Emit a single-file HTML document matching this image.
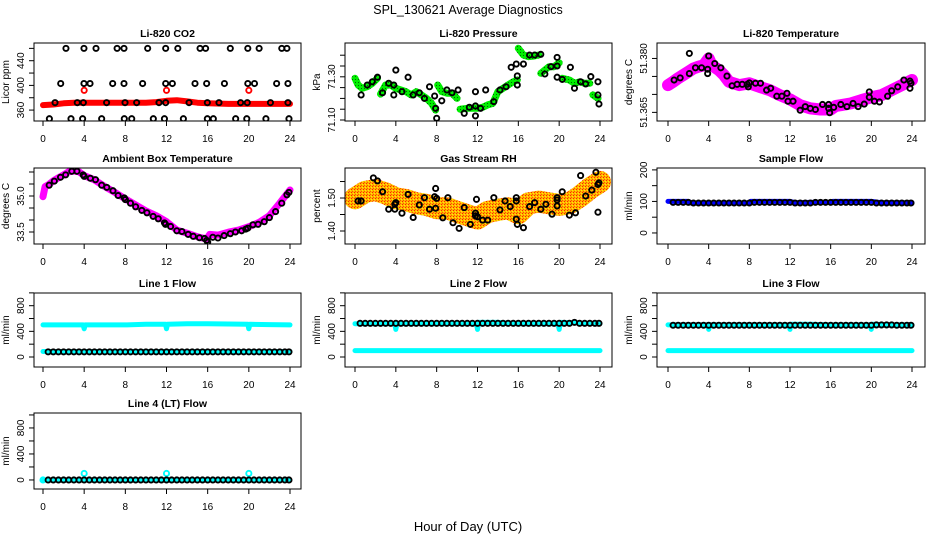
<!DOCTYPE html>
<html><head><meta charset="utf-8"><title>SPL_130621 Average Diagnostics</title>
<style>
html,body{margin:0;padding:0;background:#fff;}
svg{display:block;font-family:"Liberation Sans",Arial,sans-serif;}
</style></head>
<body>
<svg id="chart" width="936" height="540" viewBox="0 0 936 540" xmlns="http://www.w3.org/2000/svg">
<defs>
<pattern id="orangeDots" width="3" height="3" patternUnits="userSpaceOnUse">
<rect width="3" height="3" fill="#ffb300"/><rect width="1" height="1" fill="#ff2200"/><rect x="2" y="1" width="1" height="1" fill="#ffee00"/><rect x="1" y="2" width="1" height="1" fill="#ff5500"/>
</pattern>
<pattern id="greenDots" width="3" height="3" patternUnits="userSpaceOnUse">
<rect width="3" height="3" fill="#00ee00"/><rect x="1" y="1" width="1" height="1" fill="#006600"/>
</pattern>
</defs>
<text x="468" y="14" text-anchor="middle" font-size="12.5">SPL_130621  Average Diagnostics</text>
<text x="468" y="531" text-anchor="middle" font-size="13">Hour of Day (UTC)</text>
</svg>
<script>
// ---------------- data ----------------
const HALF = [0.5,1,1.5,2,2.5,3,3.5,4,4.5,5,5.5,6,6.5,7,7.5,8,8.5,9,9.5,10,10.5,11,11.5,12,12.5,13,13.5,14,14.5,15,15.5,16,16.5,17,17.5,18,18.5,19,19.5,20,20.5,21,21.5,22,22.5,23,23.5,23.9];
const xTicks = [0,4,8,12,16,20,24];

// CO2
const co2RedHours = [0,1,2,3,4,6,8,10,11,12,13,14,15,16,18,20,22,24];
const co2RedVals = [368,369,371,372,372,372,372,372,373,375,376,374,372,371,370,370,370,370];
const co2RedOutHours = [4,12,20];
const co2RedOutVals = [392,392,392];
const co2BlackHours = [2.23,3.98,5.15,7.2,7.87,10.17,11.92,13.1,15.26,15.8,18.2,19.9,21.0,23.2,23.7,
 1.72,3.98,4.57,6.77,7.87,9.68,11.92,12.57,14.77,15.9,17.63,19.9,20.55,22.7,23.8,
 1.17,3.33,3.92,6.18,7.97,9.1,11.27,11.92,14.19,15.97,17.1,19.2,19.85,22.1,23.8,
 0.62,2.72,3.85,5.7,7.9,8.62,10.72,11.8,13.64,15.97,16.55,18.72,19.8,21.66,23.9];
const co2BlackVals = [460,460,460,460,460,460,460,460,460,460,460,460,460,460,460,
 403,403,403,403,403,403,403,403,403,403,403,403,403,403,403,
 372,372,372,372,372,372,372,372,372,372,372,372,372,372,372,
 346,346,346,346,346,346,346,346,346,346,346,346,346,346,346];

// Pressure
const presGreenHours = [0,0.3,0.7,1.2,1.7,2.2,null,2.5,3,3.5,4,4.5,5,5.5,6,6.5,7,7.5,7.9,null,8.1,8.5,9,9.5,10,null,10.3,11,11.5,12,12.5,13,13.5,14,14.5,15,15.5,15.9,null,16,16.5,17,17.5,18,null,18.2,19,19.5,20,null,20.3,21,21.5,22,22.5,23,null,23.3,23.8];
const presGreenVals = [71.293,71.262,71.247,71.254,71.270,71.293,null,71.220,71.262,71.262,71.247,71.239,71.231,71.216,71.231,71.216,71.200,71.177,71.146,null,71.262,71.231,71.224,71.224,71.200,null,71.150,71.154,71.154,71.154,71.159,71.170,71.177,71.231,71.247,71.262,71.277,71.285,null,71.432,71.401,71.393,71.396,71.401,null,71.316,71.347,71.347,71.365,null,71.293,71.285,71.270,71.277,71.270,71.270,null,71.216,71.200];
const presBlackHours = [0.6,1.2,1.7,2.2,2.7,3.3,3.8,3.8,4.0,4.6,5.2,5.7,6.3,6.8,7.3,7.8,7.9,8.0,8.5,9.0,9.5,10.1,10.7,11.2,11.8,11.8,11.8,12.3,12.8,13.6,14.2,14.8,15.3,15.8,15.9,15.9,16.5,17.1,17.6,18.2,18.6,19.2,19.8,19.8,19.8,20.3,21.1,21.5,22.1,22.6,23.1,23.8,23.8,23.9];
const presBlackVals = [71.216,71.262,71.277,71.298,71.226,71.270,71.216,71.262,71.331,71.231,71.298,71.216,71.226,71.200,71.254,71.211,71.154,71.108,71.189,71.239,71.226,71.239,71.131,71.159,71.119,71.165,71.231,71.154,71.239,71.185,71.239,71.254,71.344,71.359,71.304,71.262,71.359,71.401,71.401,71.404,71.313,71.347,71.390,71.350,71.298,71.288,71.344,71.247,71.277,71.267,71.301,71.277,71.216,71.174];

// Li-820 temperature
const tempMagHours = [0,0.5,1,1.5,2,2.5,3,3.5,4,4.3,5,5.5,6,7,8,9,10,11,12,13,14,15,16,16.5,17,18,19,20,21,22,23,24];
const tempMagVals = [51.3726,51.3735,51.3745,51.3754,51.3763,51.3772,51.3777,51.3781,51.3800,51.3781,51.3768,51.3754,51.3735,51.3726,51.3731,51.3721,51.3712,51.3698,51.3686,51.3670,51.3661,51.3658,51.3658,51.3668,51.3670,51.3675,51.3684,51.3692,51.3698,51.3712,51.3726,51.3740];
const tempBlackHours = [0.6,1.2,2.1,2.1,2.7,3.3,3.9,3.9,4.0,4.6,5.2,5.8,6.3,6.8,7.3,7.8,7.9,8.0,8.6,9.1,9.7,10.1,10.7,11.2,11.7,11.8,12.3,13.0,13.5,14.0,14.5,15.2,15.8,15.8,15.9,16.3,17.0,17.6,18.2,18.7,19.3,19.8,19.8,20.3,20.8,21.6,22.0,22.6,23.2,23.8,23.8,23.9];
const tempBlackVals = [51.3740,51.3746,51.3814,51.3758,51.3774,51.3774,51.3758,51.3770,51.3807,51.3786,51.3774,51.3751,51.3724,51.3728,51.3728,51.3728,51.3721,51.3732,51.3731,51.3731,51.3712,51.3717,51.3695,51.3695,51.3703,51.3681,51.3681,51.3656,51.3666,51.3661,51.3658,51.3672,51.3672,51.3661,51.3649,51.3664,51.3672,51.3666,51.3675,51.3666,51.3673,51.3707,51.3692,51.3681,51.3679,51.3695,51.3710,51.3721,51.3740,51.3737,51.3717,51.3731];

// Ambient box temperature
const ambMagHours = [0,0.2,0.5,1,1.5,2,2.5,3,3.5,4,5,6,7,8,9,10,11,12,13,14,15,15.9,16.2,17,18,19,20,21,22,23,24];
const ambMagVals = [34.97,35.39,35.46,35.63,35.76,35.88,36.01,36.04,36.01,35.85,35.67,35.39,35.15,34.88,34.63,34.38,34.18,33.93,33.58,33.45,33.30,33.21,33.40,33.37,33.49,33.58,33.72,33.90,34.18,34.70,35.25];
const ambBlackHours = [0.6,1.1,1.7,2.2,2.8,3.3,3.9,4.0,4.6,5.1,5.7,6.2,6.8,7.3,7.9,8.0,8.5,9.0,9.6,10.1,10.7,11.2,11.8,11.9,12.4,13.0,13.5,14.1,14.6,15.2,15.7,15.9,16.0,16.5,17.0,17.6,18.2,18.7,19.3,19.7,19.9,20.4,20.9,21.5,22.0,22.6,23.2,23.7,23.9];
const ambBlackVals = [35.45,35.62,35.78,35.88,36.03,36.03,35.88,35.82,35.74,35.68,35.45,35.36,35.22,35.02,34.92,34.85,34.70,34.55,34.40,34.30,34.15,34.05,33.88,33.82,33.73,33.55,33.52,33.40,33.32,33.26,33.23,33.15,33.08,33.28,33.25,33.35,33.43,33.50,33.55,33.62,33.66,33.80,33.82,33.93,34.10,34.35,34.70,35.05,35.15];

// Gas stream RH
const rhOrHours = [0,1,2,3,4,5,6,7,8,9,10,11,12,13,14,15,16,17,18,19,20,21,22,23,24];
const rhOrVals = [1.499,1.519,1.524,1.514,1.499,1.494,1.484,1.479,1.469,1.469,1.458,1.448,1.438,1.458,1.464,1.469,1.454,1.484,1.489,1.484,1.479,1.484,1.504,1.529,1.549];
const rhBlackHours = [0.3,0.6,1.8,2.2,2.7,3.3,3.9,3.9,4.0,4.6,5.2,5.7,6.3,6.8,7.3,7.8,7.9,7.9,8.0,8.6,9.1,9.6,10.2,10.7,11.3,11.8,11.8,11.9,12.0,12.5,13.0,13.6,14.2,14.7,15.2,15.8,15.8,15.8,15.9,16.5,17.1,17.6,18.2,18.7,19.3,19.8,19.8,19.8,20.3,21.0,21.6,22.1,22.6,23.2,23.6,23.8,23.8,23.9];
const rhBlackVals = [1.491,1.491,1.561,1.552,1.519,1.466,1.481,1.466,1.486,1.454,1.511,1.441,1.479,1.501,1.466,1.504,1.529,1.469,1.499,1.440,1.501,1.425,1.408,1.471,1.420,1.454,1.446,1.496,1.443,1.433,1.433,1.501,1.464,1.491,1.474,1.491,1.501,1.436,1.420,1.410,1.474,1.486,1.466,1.481,1.451,1.501,1.494,1.476,1.519,1.448,1.455,1.568,1.506,1.524,1.578,1.541,1.457,1.546];

// Sample flow
const sampBlueHours = [0,2,2.3,4,6,8,8.1,10,12,12.5,14,16,16.2,18,20,21,22,24];
const sampBlueVals = [100,100,95,95,95,95,100,100,100,96,97,97,100,100,100,96,96,96];
const sampBlackVals = [97,97,97,97,95,95,95,95,95,95,95,95,95,95,95,95,97,97,97,97,97,97,97,97,95,95,95,95,97,97,97,97,97,97,97,97,97,97,97,97,95,95,95,95,95,95,95,95];

// Line flows
const cyTopHours = [0,2,3.9,4,4.1,6,8,10,11.9,12,12.1,14,16,18,19.9,20,20.1,22,24];
const line1CyTop = [500,500,500,440,500,500,500,510,510,440,510,520,520,515,510,440,510,505,500];
const line1CyLow = [85,85];
const line1Black = [80,80,80,80,80,80,80,80,80,80,80,80,80,80,80,80,80,80,80,80,80,80,80,80,80,80,80,80,80,80,80,80,80,80,80,80,80,80,80,80,80,80,80,80,80,80,80,80];
const line2CyTop = [520,520,520,430,520,520,520,520,520,430,540,540,520,520,520,430,540,530,520];
const line2CyLow = [100,100];
const line2Black = [525,525,525,525,525,525,525,525,525,525,525,525,525,525,525,525,525,525,525,525,525,525,525,525,525,525,525,525,525,525,525,525,525,525,525,525,525,525,525,525,525,525,540,525,525,525,525,525];
const line3CyTop = [500,500,500,430,500,500,500,500,500,430,510,510,500,500,500,430,510,500,500];
const line3CyLow = [100,100];
const line3Black = [495,495,495,495,495,495,495,495,495,495,495,495,495,495,495,495,495,495,495,495,495,495,495,495,495,495,495,495,495,495,495,495,495,495,495,495,495,495,495,495,500,500,500,500,495,495,495,495];
const lowHours = [0,24];
const line4CyVals = [0,0];
const line4SpikeHours = [0,4,12,20];
const line4SpikeVals = [0,100,100,100];
const line4Black = [0,0,0,0,0,0,0,0,0,0,0,0,0,0,0,0,0,0,0,0,0,0,0,0,0,0,0,0,0,0,0,0,0,0,0,0,0,0,0,0,0,0,0,0,0,0,0,0];

// ---------------- layout ----------------
const COLS = [{l:34,r:301,x0:43,x24:290},{l:345,r:612,x0:355,x24:600},{l:657,r:925,x0:668,x24:912}];
const ROWS = [{t:43,b:121},{t:168,b:244},{t:293,b:367},{t:413,b:489}];
const svg = document.getElementById('chart');
const NS = 'http://www.w3.org/2000/svg';

function mk(tag, attrs, parent, name) {
  const el = document.createElementNS(NS, tag);
  for (const k in attrs) el.setAttribute(k, attrs[k]);
  
  
  parent.appendChild(el);
  return el;
}

function makePanel(cfg) {
  const c = COLS[cfg.col], r = ROWS[cfg.row];
  const g = mk('g', {}, svg, cfg.name);
  const p = {
    sx: h => c.x0 + h * (c.x24 - c.x0) / 24,
    sy: v => r.t + (cfg.ymax - v) / (cfg.ymax - cfg.ymin) * (r.b - r.t),
    g: g
  };
  const clipId = 'clip-' + cfg.name;
  const cp = mk('clipPath', {id: clipId}, g, cfg.name + '-clip');
  mk('rect', {x: c.l, y: r.t, width: c.r - c.l, height: r.b - r.t}, cp, cfg.name + '-clip-rect');
  p.plot = mk('g', {'clip-path': 'url(#' + clipId + ')'}, g, cfg.name + '-plot-area');
  mk('text', {x: (c.l + c.r) / 2, y: r.t - 6, 'text-anchor': 'middle', 'font-size': '10.5', 'font-weight': 'bold'}, g, cfg.name + '-title').textContent = cfg.title;
  mk('rect', {x: c.l, y: r.t, width: c.r - c.l, height: r.b - r.t, fill: 'none', stroke: '#000', 'stroke-width': 1}, g, cfg.name + '-frame');
  mk('line', {x1: p.sx(0), x2: p.sx(24), y1: r.b, y2: r.b, stroke: '#000'}, g, cfg.name + '-x-axis');
  xTicks.forEach(t => {
    mk('line', {x1: p.sx(t), x2: p.sx(t), y1: r.b, y2: r.b + 5, stroke: '#000'}, g, cfg.name + '-x-tick');
    mk('text', {x: p.sx(t), y: r.b + 21, 'text-anchor': 'middle', 'font-size': '10'}, g, cfg.name + '-x-tick-label').textContent = t;
  });
  const yt = cfg.ticks;
  mk('line', {x1: c.l, x2: c.l, y1: p.sy(yt[0]), y2: p.sy(yt[yt.length - 1]), stroke: '#000'}, g, cfg.name + '-y-axis');
  yt.forEach(t => {
    mk('line', {x1: c.l - 5, x2: c.l, y1: p.sy(t), y2: p.sy(t), stroke: '#000'}, g, cfg.name + '-y-tick');
  });
  cfg.labels.forEach(t => {
    const x = c.l - 10, y = p.sy(t);
    mk('text', {x: x, y: y, transform: 'rotate(-90 ' + x + ' ' + y + ')', 'text-anchor': 'middle', 'font-size': '10'}, g, cfg.name + '-y-tick-label').textContent = cfg.fmt(t);
  });
  const tx = c.l - 25, ty = (r.t + r.b) / 2;
  mk('text', {x: tx, y: ty, transform: 'rotate(-90 ' + tx + ' ' + ty + ')', 'text-anchor': 'middle', 'font-size': '10'}, g, cfg.name + '-y-title').textContent = cfg.ytitle;
  return p;
}

function band(p, hours, vals, color, width, name) {
  let d = '', pen = false;
  for (let i = 0; i < hours.length; i++) {
    if (hours[i] === null || vals[i] === null) { pen = false; continue; }
    d += (pen ? 'L' : 'M') + p.sx(hours[i]).toFixed(1) + ' ' + p.sy(vals[i]).toFixed(1);
    pen = true;
  }
  mk('path', {d: d, fill: 'none', stroke: color, 'stroke-width': width, 'stroke-linecap': 'round', 'stroke-linejoin': 'round'}, p.plot, name);
}

function dots(p, hours, vals, color, name) {
  for (let i = 0; i < hours.length; i++) {
    mk('circle', {cx: p.sx(hours[i]), cy: p.sy(vals[i]), r: 2.6, fill: 'none', stroke: color, 'stroke-width': 1.9}, p.plot, name);
  }
}

// ---------------- panels ----------------
const f2 = v => v.toFixed(2), f3 = v => v.toFixed(3), f1 = v => v.toFixed(1), f0 = v => String(v);

const pCO2 = makePanel({name: 'co2-panel', title: 'Li-820 CO2', ytitle: 'Licor ppm', col: 0, row: 0, ymin: 342.3, ymax: 468.7, ticks: [360,380,400,420,440,460], labels: [360,400,440], fmt: f0});
band(pCO2, co2RedHours, co2RedVals, '#ff0000', 6, 'co2-red-series');
dots(pCO2, co2RedOutHours, co2RedOutVals, '#ff0000', 'co2-red-point');
dots(pCO2, co2BlackHours, co2BlackVals, '#000', 'co2-black-point');

const pPres = makePanel({name: 'pressure-panel', title: 'Li-820 Pressure', ytitle: 'kPa', col: 1, row: 0, ymin: 71.0954, ymax: 71.4565, ticks: [71.10,71.15,71.20,71.25,71.30,71.35,71.40], labels: [71.10,71.30], fmt: f2});
band(pPres, presGreenHours, presGreenVals, 'url(#greenDots)', 7, 'pressure-green-series');
dots(pPres, presBlackHours, presBlackVals, '#000', 'pressure-black-point');

const pTemp = makePanel({name: 'temperature-panel', title: 'Li-820 Temperature', ytitle: 'degrees C', col: 2, row: 0, ymin: 51.3626, ymax: 51.3843, ticks: [51.365,51.370,51.375,51.380], labels: [51.365,51.380], fmt: f3});
band(pTemp, tempMagHours, tempMagVals, '#ff00ff', 12, 'temperature-magenta-series');
dots(pTemp, tempBlackHours, tempBlackVals, '#000', 'temperature-black-point');

const pAmb = makePanel({name: 'ambient-panel', title: 'Ambient Box Temperature', ytitle: 'degrees C', col: 0, row: 1, ymin: 33.0, ymax: 36.167, ticks: [33.5,34.0,34.5,35.0,35.5,36.0], labels: [33.5,35.0], fmt: f1});
band(pAmb, ambMagHours, ambMagVals, '#ff00ff', 7, 'ambient-magenta-series');
dots(pAmb, ambBlackHours, ambBlackVals, '#000', 'ambient-black-point');

const pRH = makePanel({name: 'rh-panel', title: 'Gas Stream RH', ytitle: 'percent', col: 1, row: 1, ymin: 1.3606, ymax: 1.591, ticks: [1.40,1.45,1.50,1.55], labels: [1.40,1.50], fmt: f2});
band(pRH, rhOrHours, rhOrVals, 'url(#orangeDots)', 22, 'rh-orange-series');
dots(pRH, rhBlackHours, rhBlackVals, '#000', 'rh-black-point');

const pSamp = makePanel({name: 'sample-flow-panel', title: 'Sample Flow', ytitle: 'ml/min', col: 2, row: 1, ymin: -35, ymax: 206, ticks: [0,50,100,150,200], labels: [0,100,200], fmt: f0});
band(pSamp, sampBlueHours, sampBlueVals, '#0000ff', 5, 'sample-blue-series');
dots(pSamp, HALF, sampBlackVals, '#000', 'sample-black-point');

const flowTicks = [0,200,400,600,800,1000];
const p1 = makePanel({name: 'line1-panel', title: 'Line 1 Flow', ytitle: 'ml/min', col: 0, row: 2, ymin: -156, ymax: 998, ticks: flowTicks, labels: [0,400,800], fmt: f0});
band(p1, cyTopHours, line1CyTop, '#00ffff', 5, 'line1-cyan-upper');
band(p1, lowHours, line1CyLow, '#00ffff', 5, 'line1-cyan-lower');
dots(p1, HALF, line1Black, '#000', 'line1-black-point');

const p2 = makePanel({name: 'line2-panel', title: 'Line 2 Flow', ytitle: 'ml/min', col: 1, row: 2, ymin: -156, ymax: 998, ticks: flowTicks, labels: [0,400,800], fmt: f0});
band(p2, cyTopHours, line2CyTop, '#00ffff', 5, 'line2-cyan-upper');
band(p2, lowHours, line2CyLow, '#00ffff', 5, 'line2-cyan-lower');
dots(p2, HALF, line2Black, '#000', 'line2-black-point');

const p3 = makePanel({name: 'line3-panel', title: 'Line 3 Flow', ytitle: 'ml/min', col: 2, row: 2, ymin: -156, ymax: 998, ticks: flowTicks, labels: [0,400,800], fmt: f0});
band(p3, cyTopHours, line3CyTop, '#00ffff', 5, 'line3-cyan-upper');
band(p3, lowHours, line3CyLow, '#00ffff', 5, 'line3-cyan-lower');
dots(p3, HALF, line3Black, '#000', 'line3-black-point');

const p4 = makePanel({name: 'line4-panel', title: 'Line 4 (LT) Flow', ytitle: 'ml/min', col: 0, row: 3, ymin: -139, ymax: 1030, ticks: flowTicks, labels: [0,400,800], fmt: f0});
band(p4, lowHours, line4CyVals, '#00ffff', 4, 'line4-cyan-series');
dots(p4, line4SpikeHours, line4SpikeVals, '#00ffff', 'line4-cyan-point');
dots(p4, HALF, line4Black, '#000', 'line4-black-point');
</script>
</body></html>
